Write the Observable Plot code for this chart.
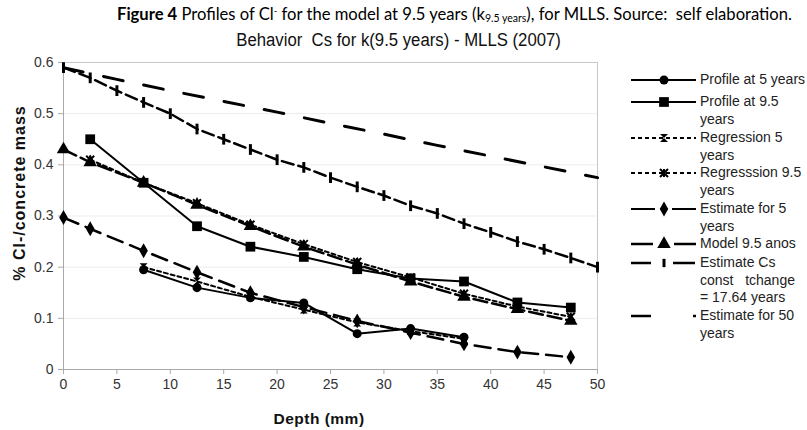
<!DOCTYPE html>
<html><head><meta charset="utf-8">
<script src="https://cdn.jsdelivr.net/npm/d3@7"></script>
<script src="https://cdn.jsdelivr.net/npm/@observablehq/plot@0.6"></script>
<style>
body{margin:0;background:#fff;width:807px;height:430px;overflow:hidden;position:relative;font-family:"Liberation Sans",Arial,sans-serif;color:#000}
#t1{position:absolute;top:3px;left:117px;font-family:Lato,"Open Sans",sans-serif;font-size:16.6px;line-height:22px;white-space:nowrap}
#t1 sub{font-size:10.5px;vertical-align:-2px;line-height:0}
#t1 sup{font-size:9.5px;vertical-align:6px;line-height:0}
#t2wrap{position:absolute;top:30px;left:0;width:798px;text-align:center;line-height:20px}
#t2{display:inline-block;font-family:"Liberation Sans",sans-serif;font-size:18px;white-space:nowrap;color:#111;transform:scaleX(0.93)}
#chart{position:absolute;top:50px;left:0}
#xl{position:absolute;top:410px;left:219px;width:200px;text-align:center;font-weight:bold;font-size:15.5px;letter-spacing:0.5px;color:#111}
#yl{position:absolute;left:20px;top:193px;transform:translate(-50%,-50%) rotate(-90deg);font-weight:bold;font-size:16px;letter-spacing:1px;white-space:nowrap;color:#111}
.li{position:absolute;left:631px}
.lt{position:absolute;left:700px;font-size:14px;line-height:17.5px;white-space:nowrap;color:#222}
</style></head><body>
<div id="t1"><b>Figure 4</b> Profiles of Cl<sup>-</sup> for the model at 9.5 years (k<sub>9.5 years</sub>), for MLLS. Source:&nbsp; self elaboration.</div>
<div id="t2wrap"><span id="t2">Behavior&nbsp; Cs for k(9.5 years) - MLLS (2007)</span></div>
<div id="chart"></div>
<div id="xl">Depth (mm)</div>
<div id="yl">% Cl-/concrete mass</div>
<div id="legend"></div>
<script>
// ---- data ----
const depthProfile5 = [7.5, 12.5, 17.5, 22.5, 27.5, 32.5, 37.5];
const profile5 = [0.195, 0.16, 0.14, 0.13, 0.07, 0.08, 0.063];
const depthProfile95 = [2.5, 7.5, 12.5, 17.5, 22.5, 27.5, 32.5, 37.5, 42.5, 47.5];
const profile95 = [0.45, 0.365, 0.28, 0.24, 0.22, 0.196, 0.178, 0.172, 0.131, 0.121];
const depthReg5 = [7.5, 12.5, 17.5, 22.5, 27.5, 32.5, 37.5];
const regression5 = [0.2, 0.172, 0.142, 0.117, 0.092, 0.075, 0.06];
const depthReg95 = [2.5, 7.5, 12.5, 17.5, 22.5, 27.5, 32.5, 37.5, 42.5, 47.5];
const regression95 = [0.41, 0.365, 0.325, 0.283, 0.245, 0.21, 0.18, 0.148, 0.123, 0.103];
const depthEst5 = [0, 2.5, 7.5, 12.5, 17.5, 22.5, 27.5, 32.5, 37.5, 42.5, 47.5];
const estimate5 = [0.297, 0.275, 0.232, 0.19, 0.15, 0.122, 0.095, 0.072, 0.05, 0.034, 0.024];
const depthModel95 = [0, 2.5, 7.5, 12.5, 17.5, 22.5, 27.5, 32.5, 37.5, 42.5, 47.5];
const model95 = [0.43, 0.405, 0.365, 0.322, 0.28, 0.24, 0.205, 0.172, 0.142, 0.118, 0.095];
const depthConst = [0, 2.5, 5, 7.5, 10, 12.5, 15, 17.5, 20, 22.5, 25, 27.5, 30, 32.5, 35, 37.5, 40, 42.5, 45, 47.5, 50];
const estConst = [0.59, 0.57, 0.545, 0.522, 0.5, 0.47, 0.45, 0.43, 0.41, 0.395, 0.375, 0.357, 0.34, 0.32, 0.305, 0.285, 0.268, 0.25, 0.235, 0.218, 0.2];
const depth50 = [0, 5, 10, 15, 20, 25, 30, 35, 40, 45, 50];
const estimate50 = [0.59, 0.567, 0.545, 0.524, 0.503, 0.481, 0.46, 0.438, 0.417, 0.396, 0.375];
const xTicks = [0, 5, 10, 15, 20, 25, 30, 35, 40, 45, 50];
const yTicks = [0, 0.1, 0.2, 0.3, 0.4, 0.5, 0.6];
const legendNames = ["Profile at 5 years", "Profile at 9.5\nyears", "Regression 5\nyears", "Regresssion 9.5\nyears", "Estimate for 5\nyears", "Model 9.5 anos", "Estimate Cs\nconst   tchange\n= 17.64 years", "Estimate for 50\nyears"];

const pts = (xs, ys) => xs.map((x, i) => ({x, y: ys[i]}));

// custom symbols
const hourglass = {draw(c, size){const s = Math.sqrt(size) / 2; c.moveTo(-s, -s); c.lineTo(s, -s); c.lineTo(-s, s); c.lineTo(s, s); c.closePath();}};
const vbar = {draw(c, size){const h = Math.sqrt(size) * 0.55; c.moveTo(-1.5, -h); c.lineTo(1.5, -h); c.lineTo(1.5, h); c.lineTo(-1.5, h); c.closePath();}};
const star = {draw(c, size){const s = Math.sqrt(size) / 2; c.moveTo(-s, -s); c.lineTo(s, s); c.moveTo(s, -s); c.lineTo(-s, s); c.moveTo(0, -s); c.lineTo(0, s);}};

const series = [
  {d: pts(depthProfile5, profile5), dash: null, w: 2, sym: "circle", r: 4.5},
  {d: pts(depthProfile95, profile95), dash: null, w: 2, sym: "square", r: 5.5},
  {d: pts(depthReg5, regression5), dash: "4,3", w: 2, sym: hourglass, r: 4.5},
  {d: pts(depthReg95, regression95), dash: "4,3", w: 2, sym: star, r: 4.5, stroke: true},
  {d: pts(depthEst5, estimate5), dash: "16,8", w: 2.5, sym: "diamond", r: 4.5},
  {d: pts(depthModel95, model95), dash: "14,5", w: 2.5, sym: "triangle", r: 5},
  {d: pts(depthConst, estConst), dash: "12,5", w: 2.5, sym: vbar, r: 5.5},
  {d: pts(depth50, estimate50), dash: "20,21", w: 3, sym: null}
];

const marks = [
  Plot.gridY(yTicks, {stroke: "#ececec", strokeOpacity: 1}),
  Plot.frame({stroke: "#c8c8c8"}),
  Plot.axisX(xTicks, {tickSize: 5, tickPadding: 5, fontSize: 14, stroke: "#aaa", fill: "#333", tickFormat: d => d, label: null}),
  Plot.axisY(yTicks, {tickSize: 5, tickPadding: 5, fontSize: 14, stroke: "#aaa", fill: "#333", tickFormat: d => d === 0 ? "0" : d.toFixed(1), label: null}),
  Plot.ruleX([0], {stroke: "#aaa"}),
  Plot.ruleY([0], {stroke: "#aaa"})
];
for (const s of series) {
  marks.push(Plot.line(s.d, {x: "x", y: "y", stroke: "#000", strokeWidth: s.w, strokeDasharray: s.dash}));
}
for (const s of series) {
  if (!s.sym) continue;
  if (s.stroke) marks.push(Plot.dot(s.d, {x: "x", y: "y", symbol: s.sym, r: s.r, fill: "none", stroke: "#000", strokeWidth: 2}));
  else marks.push(Plot.dot(s.d, {x: "x", y: "y", symbol: s.sym, r: s.r, fill: "#000", stroke: "none"}));
}

const plot = Plot.plot({
  width: 807, height: 380,
  marginTop: 12, marginBottom: 61, marginLeft: 63, marginRight: 210,
  x: {domain: [0, 50]},
  y: {domain: [0, 0.6]},
  style: {fontFamily: "'Liberation Sans', Arial, sans-serif", background: "#fff"},
  marks
});
document.getElementById("chart").appendChild(plot);

// legend
const legendY = [80, 102, 138, 173, 209, 244, 263, 316];
const legDash = [null, null, "4,3", "4,3", "24,17,24", "22,21,22", "20,22,22", "20,42,22"];
const legW = [2, 2, 2, 2, 2, 2.5, 2.5, 2.5];
const leg = document.getElementById("legend");
series.forEach((s, i) => {
  const svg = d3.create("svg").attr("width", 66).attr("height", 16).attr("class", "li").style("top", (legendY[i] - 8) + "px");
  svg.append("line").attr("x1", 0).attr("x2", 65).attr("y1", 8).attr("y2", 8).attr("stroke", "#000").attr("stroke-width", legW[i]).attr("stroke-dasharray", legDash[i]);
  if (s.sym) {
    const size = Math.PI * s.r * s.r * (s.sym === vbar ? 0.6 : 1);
    const p = d3.symbol(typeof s.sym === "string" ? {circle: d3.symbolCircle, square: d3.symbolSquare, diamond: d3.symbolDiamond, triangle: d3.symbolTriangle}[s.sym] : s.sym, size)();
    const path = svg.append("path").attr("d", p).attr("transform", "translate(33,8)");
    if (s.stroke) path.attr("fill", "none").attr("stroke", "#000").attr("stroke-width", 2);
    else path.attr("fill", "#000");
  }
  leg.appendChild(svg.node());
  const t = document.createElement("div");
  t.className = "lt";
  t.style.top = (legendY[i] - 9) + "px";
  t.innerHTML = legendNames[i].split("\n").map(l => l.replace(/ {2,}/g, m => "&nbsp;".repeat(m.length))).join("<br>");
  leg.appendChild(t);
});
</script>
</body></html>
